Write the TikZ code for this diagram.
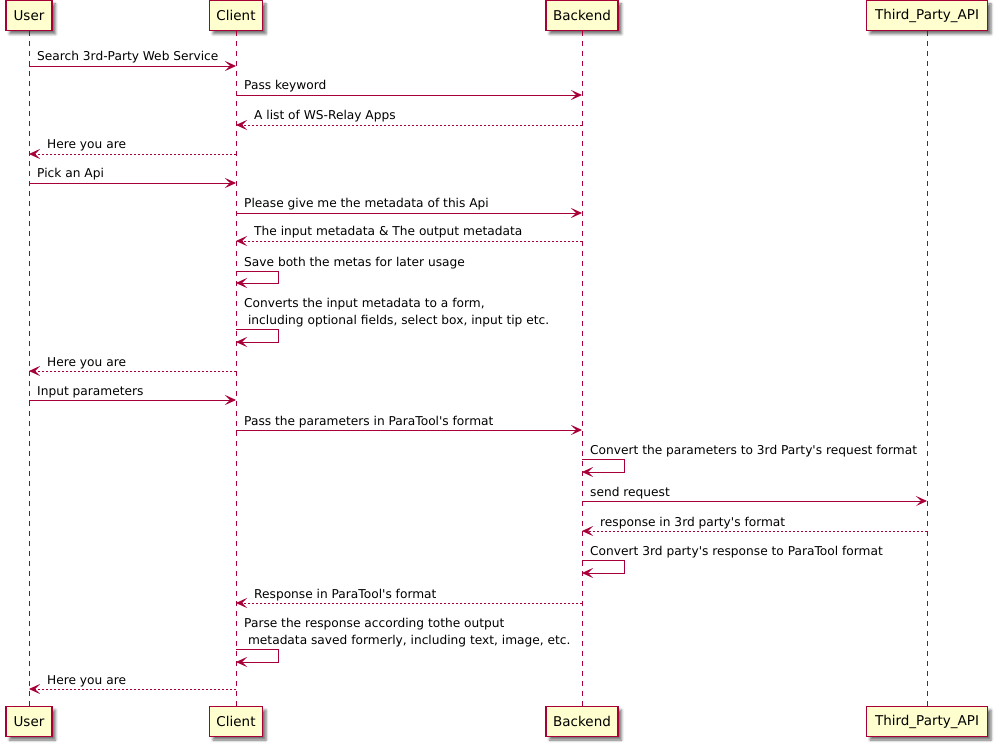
\documentclass[tikz,border=0pt]{standalone}
\usepackage{fontspec}
\setmainfont{DejaVu Sans}
\usetikzlibrary{arrows.meta,shadows.blur}
\definecolor{umlred}{HTML}{A80036}
\definecolor{umlfill}{HTML}{FEFECE}
\newcommand{\ap}{\textquotesingle}
\begin{document}
\begin{tikzpicture}[x=1pt,y=-1pt,
  actorbox/.style={draw=umlred, fill=umlfill, line width=1.2pt, minimum height=30pt,
    inner sep=0pt, font=\fontsize{13.5}{16}\selectfont, text=black,
    blur shadow={shadow xshift=3.5pt, shadow yshift=-3.5pt, shadow blur radius=2.5pt, shadow opacity=55}},
  lifeline/.style={draw=umlred, line width=0.8pt, dash pattern=on 5pt off 5pt},
  msg/.style={draw=umlred, line width=0.9pt, -{Stealth[length=11pt,width=10pt,inset=5pt]}},
  reply/.style={msg, dash pattern=on 2pt off 2pt},
  lbl/.style={anchor=base west, inner sep=0pt, font=\fontsize{12.2}{17}\selectfont, text=black}]
\useasboundingbox (0,0) rectangle (995,743);

% participants, top and bottom
\node[actorbox, minimum width=46pt]  (utop) at (29,15.5)  {User};
\node[actorbox, minimum width=53pt]  (ctop) at (236,15.5) {Client};
\node[actorbox, minimum width=72pt]  (btop) at (582,15.5) {Backend};
\node[actorbox, minimum width=121pt] (ttop) at (927,15.5) {Third\_Party\_API};
\node[actorbox, minimum width=46pt]  (ubot) at (29,721.5)  {User};
\node[actorbox, minimum width=53pt]  (cbot) at (236,721.5) {Client};
\node[actorbox, minimum width=72pt]  (bbot) at (582,721.5) {Backend};
\node[actorbox, minimum width=121pt] (tbot) at (927,721.5) {Third\_Party\_API};

% lifelines
\draw[lifeline] (utop) -- (ubot);
\draw[lifeline] (ctop) -- (cbot);
\draw[lifeline] (btop) -- (bbot);
\draw[lifeline] (ttop) -- (tbot);

% messages
\draw[msg] (utop |- 0,66) -- (ctop |- 0,66);
\node[lbl] (l1) at (37,61) {Search 3rd-Party Web Service};

\draw[msg] (ctop |- 0,95) -- (btop |- 0,95);
\node[lbl] (l2) at (244,90) {Pass keyword};

\draw[reply] (btop |- 0,125) -- (ctop |- 0,125);
\node[lbl] (l3) at (254,120) {A list of WS-Relay Apps};

\draw[reply] (ctop |- 0,154) -- (utop |- 0,154);
\node[lbl] (l4) at (47,149) {Here you are};

\draw[msg] (utop |- 0,183) -- (ctop |- 0,183);
\node[lbl] (l5) at (37,178) {Pick an Api};

\draw[msg] (ctop |- 0,213) -- (btop |- 0,213);
\node[lbl] (l6) at (244,208) {Please give me the metadata of this Api};

\draw[reply] (btop |- 0,241) -- (ctop |- 0,241);
\node[lbl] (l7) at (254,236) {The input metadata \& The output metadata};

\draw[msg] (ctop |- 0,271) -- ++(42,0) -- ++(0,12) -- (ctop |- 0,283);
\node[lbl] (l8) at (244,266) {Save both the metas for later usage};

\draw[msg] (ctop |- 0,329) -- ++(42,0) -- ++(0,13) -- (ctop |- 0,342);
\node[lbl] (l9a) at (244,307) {Converts the input metadata to a form,};
\node[lbl] (l9b) at (244,324) {\hspace*{3.9pt}including optional fields, select box, input tip etc.};

\draw[reply] (ctop |- 0,371) -- (utop |- 0,371);
\node[lbl] (l10) at (47,366) {Here you are};

\draw[msg] (utop |- 0,400) -- (ctop |- 0,400);
\node[lbl] (l11) at (37,395) {Input parameters};

\draw[msg] (ctop |- 0,430) -- (btop |- 0,430);
\node[lbl] (l12) at (244,425) {Pass the parameters in ParaTool\ap s format};

\draw[msg] (btop |- 0,459) -- ++(42,0) -- ++(0,13) -- (btop |- 0,472);
\node[lbl] (l13) at (590,454) {Convert the parameters to 3rd Party\ap s request format};

\draw[msg] (btop |- 0,501) -- (ttop |- 0,501);
\node[lbl] (l14) at (590,496) {send request};

\draw[reply] (ttop |- 0,531) -- (btop |- 0,531);
\node[lbl] (l15) at (600,526) {response in 3rd party\ap s format};

\draw[msg] (btop |- 0,560) -- ++(42,0) -- ++(0,13) -- (btop |- 0,573);
\node[lbl] (l16) at (590,555) {Convert 3rd party\ap s response to ParaTool format};

\draw[reply] (btop |- 0,603) -- (ctop |- 0,603);
\node[lbl] (l17) at (254,598) {Response in ParaTool\ap s format};

\draw[msg] (ctop |- 0,649) -- ++(42,0) -- ++(0,13) -- (ctop |- 0,662);
\node[lbl] (l18a) at (244,627) {Parse the response according tothe output};
\node[lbl] (l18b) at (244,644) {\hspace*{3.9pt}metadata saved formerly, including text, image, etc.};

\draw[reply] (ctop |- 0,689) -- (utop |- 0,689);
\node[lbl] (l19) at (47,684) {Here you are};
\end{tikzpicture}
\end{document}
